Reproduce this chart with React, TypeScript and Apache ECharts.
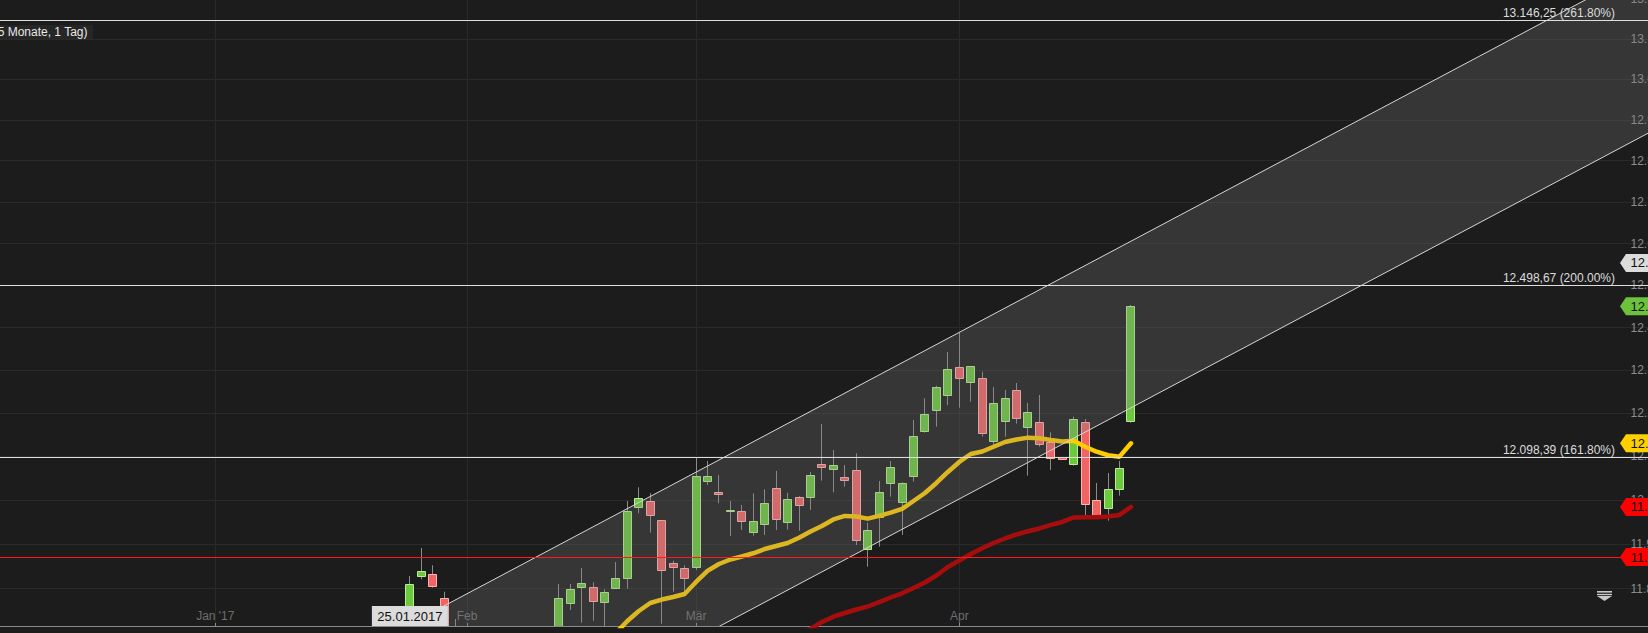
import React, { useEffect, useRef } from 'react';
import * as echarts from 'echarts';

const W = 1648;
const H = 633;
const FONT = "'Liberation Sans', Arial, sans-serif";

// ---------- axis ----------
const axisStart = '2016-12-06';
const axisLength = 146;
const monthTickDates = ['2017-01-02', '2017-02-01', '2017-03-01', '2017-04-03'];
const monthTickLabels = ["Jan '17", 'Feb', 'Mär', 'Apr'];
const yTicks = [11800, 11900, 12000, 12100, 12200, 12300, 12400, 12500, 12600, 12700, 12800, 12900, 13000, 13100, 13200];
const yMin = 11716.2;
const yMax = 13207.2;

// ---------- candles ----------
const candleDates = [
  '2017-01-25', '2017-01-26', '2017-01-27', '2017-01-30', '2017-01-31', '2017-02-01',
  '2017-02-13', '2017-02-14', '2017-02-15', '2017-02-16', '2017-02-17',
  '2017-02-20', '2017-02-21', '2017-02-22', '2017-02-23', '2017-02-24',
  '2017-02-27', '2017-02-28', '2017-03-01', '2017-03-02', '2017-03-03',
  '2017-03-06', '2017-03-07', '2017-03-08', '2017-03-09', '2017-03-10',
  '2017-03-13', '2017-03-14', '2017-03-15', '2017-03-16', '2017-03-17',
  '2017-03-20', '2017-03-21', '2017-03-22', '2017-03-23', '2017-03-24',
  '2017-03-27', '2017-03-28', '2017-03-29', '2017-03-30', '2017-03-31',
  '2017-04-03', '2017-04-04', '2017-04-05', '2017-04-06', '2017-04-07',
  '2017-04-10', '2017-04-11', '2017-04-12', '2017-04-13', '2017-04-14',
  '2017-04-17', '2017-04-18', '2017-04-19', '2017-04-20', '2017-04-21',
  '2017-04-24',
];
const candleOpen = [
  11625, 11827.5, 11832.0, 11778.0, 11690, 11640,
  11680, 11766.8, 11802.8, 11802.8, 11769.1,
  11800.5, 11823.0, 11983.7, 11997.3, 11954.2,
  11856.8, 11845.5, 11849.1, 12044.5, 12018.6,
  11974.6, 11975.3, 11926.9, 11945.1, 12027.1,
  11949.6, 12006.4, 12006.4, 12082.1, 12071.3,
  12052.3, 12068.3, 11888.9, 11961.0, 12039.9,
  11995.1, 12055.3, 12158.2, 12207.5, 12241.6,
  12307.1, 12272.0, 12281.3, 12135.0, 12181.3,
  12253.3, 12167.4, 12179.0, 12132.7, 12098.2,
  12082.1, 12179.0, 11999.6, 11982.1, 12024.8,
  12181.3,
];
const candleHigh = [
  11828.2, 11891.2, 11852.3, 11792.9, 11731.8, 11721.3,
  11810.2, 11810.2, 11846.2, 11814.0, 11798.3,
  11859.7, 11998.0, 12029.4, 12015.6, 11954.2,
  11862.6, 11852.3, 12098.2, 12089.7, 12057.6,
  11998.0, 11988.9, 12015.6, 12024.8, 12066.8,
  12016.9, 12009.3, 12064.5, 12175.1, 12114.9,
  12080.5, 12107.3, 11948.7, 12043.9, 12089.7,
  12040.8, 12184.3, 12234.6, 12264.0, 12342.8,
  12388.3, 12309.4, 12296.8, 12260.9, 12254.0,
  12270.3, 12223.7, 12242.3, 12155.8, 12098.2,
  12191.9, 12186.6, 12039.2, 12062.2, 12089.7,
  12453.6,
];
const candleLow = [
  11610, 11820.8, 11801.9, 11650, 11520, 11560,
  11670, 11751.9, 11723.6, 11728.0, 11700,
  11800.5, 11799.6, 11970.1, 11926.0, 11721.3,
  11792.9, 11792.9, 11841.7, 12034.6, 11992.8,
  11918.5, 11932.1, 11919.2, 11920.8, 11932.1,
  11932.8, 11930.5, 11977.6, 12044.5, 12017.9,
  12030.7, 11897.9, 11849.1, 11894.2, 12007.9,
  11920.8, 12042.2, 12154.9, 12168.8, 12219.0,
  12212.8, 12226.7, 12145.7, 12126.4, 12145.7,
  12175.8, 12056.0, 12122.5, 12069.1, 12095.0,
  12078.9, 11957.8, 11965.5, 11953.3, 12010.2,
  12178.0,
];
const candleClose = [
  11810.2, 11839.5, 11806.4, 11680, 11540, 11660,
  11778.0, 11798.3, 11811.8, 11772.6, 11792.9,
  11823.0, 11975.3, 12004.2, 11966.9, 11841.0,
  11849.1, 11823.0, 12055.3, 12055.3, 12013.3,
  11977.6, 11951.9, 11951.9, 11992.8, 11956.5,
  12001.8, 11988.3, 12057.6, 12075.2, 12079.8,
  12045.4, 11909.4, 11931.5, 12017.9, 12075.2,
  12038.6, 12147.3, 12197.5, 12260.2, 12302.4,
  12281.3, 12309.4, 12153.5, 12223.0, 12234.6,
  12188.3, 12202.1, 12128.1, 12096.6, 12095.0,
  12185.9, 11990.5, 11965.5, 12026.2, 12072.9,
  12450.5,
];

// ---------- moving averages ----------
const maFastStart = '2017-02-20';
const maFast = [
  11700.6, 11727.4, 11749.7, 11767.5, 11775.3,
  11780.9, 11787.7, 11814.7, 11839.5, 11855.2,
  11865.3, 11872.1, 11879.3, 11889.0, 11895.8,
  11902.6, 11914.6, 11928.7, 11941.2, 11956.0,
  11964.0, 11962.8, 11957.8, 11964.0, 11971.4,
  11979.9, 11998.0, 12016.3, 12039.2, 12064.5,
  12087.4, 12105.7, 12111.5, 12122.5, 12133.4,
  12139.2, 12143.4, 12142.0, 12138.0, 12134.6,
  12136.4, 12122.5, 12111.0, 12102.8, 12099.6,
  12130.4,
];
const maSlowStart = '2017-03-14';
const maSlow = [
  11698.3, 11709.5, 11725.1, 11736.9,
  11745.2, 11753.0, 11759.7, 11769.7, 11779.8,
  11789.3, 11801.2, 11813.6, 11829.3, 11848.5,
  11863.1, 11877.7, 11890.6, 11902.6, 11912.8,
  11921.9, 11929.2, 11935.5, 11943.5, 11950.3,
  11960.5, 11961.0, 11961.0, 11962.8, 11966.2,
  11984.4,
];

// ---------- drawings ----------
const fibLevels = [13146.25, 12498.67, 12098.39];
const fibPercents = ['261.80%', '200.00%', '161.80%'];
const supportLevel = 11870.9;
const channelUpper: [string, number][] = [['2017-02-01', 11788.4], ['2017-04-24', 12605.6]];
const channelLower: [string, number] = ['2017-04-24', 12212.6];
const crosshairDate = '2017-01-25';
const crosshairValue = 12553.5;
const periodText = '(5 Monate, 1 Tag)';

const GREEN = '#6cc83c';
const GREEN_EDGE = '#b9ec9a';
const RED = '#f06464';
const RED_EDGE = '#ffb3b3';

function buildWeekdays(start: string, n: number): string[] {
  const out: string[] = [];
  const d = new Date(start + 'T00:00:00Z');
  while (out.length < n) {
    const wd = d.getUTCDay();
    if (wd !== 0 && wd !== 6) out.push(d.toISOString().slice(0, 10));
    d.setUTCDate(d.getUTCDate() + 1);
  }
  return out;
}

function fmtDE(v: number, dec: number): string {
  const s = v.toFixed(dec);
  const parts = s.split('.');
  const i = parts[0].replace(/\B(?=(\d{3})+(?!\d))/g, '.');
  return parts[1] ? i + ',' + parts[1] : i;
}

const L = Math.log;

export default function App() {
  const ref = useRef<HTMLDivElement>(null);

  useEffect(() => {
    document.body.style.margin = '0';
    document.body.style.background = '#1c1c1c';
    const el = ref.current;
    if (!el) return;
    const chart = echarts.init(el, null, { renderer: 'svg' });

    const categories = buildWeekdays(axisStart, axisLength);
    const idx = (d: string) => categories.indexOf(d);
    const isMonth = (_i: number, v: string) => monthTickDates.indexOf(v) >= 0;

    const candleData = candleDates.map((d, i) => [
      idx(d), L(candleOpen[i]), L(candleClose[i]), L(candleLow[i]), L(candleHigh[i]),
    ]);
    const fastStart = idx(maFastStart);
    const fastData = maFast.map((v, i) => [categories[fastStart + i], L(v)]);
    const slowStart = idx(maSlowStart);
    const slowData = maSlow.map((v, i) => [categories[slowStart + i], L(v)]);

    const levelValues = [...fibLevels, supportLevel];

    const option: any = {
      animation: false,
      backgroundColor: '#1c1c1c',
      textStyle: { fontFamily: FONT },
      grid: { left: -2.17, top: -4, width: 1659.67, height: 630, containLabel: false, outerBoundsMode: 'none' },
      xAxis: {
        type: 'category',
        data: categories,
        boundaryGap: false,
        axisLine: { show: true, lineStyle: { color: '#8a8a8a', width: 1 } },
        axisTick: { show: true, inside: true, length: 3, interval: isMonth, lineStyle: { color: '#8a8a8a' } },
        axisLabel: {
          inside: true,
          margin: 4,
          interval: isMonth,
          color: '#6e6e6e',
          fontSize: 12,
          fontFamily: FONT,
          formatter: (v: string) => {
            const k = monthTickDates.indexOf(v);
            return k >= 0 ? monthTickLabels[k] : '';
          },
        },
        splitLine: { show: true, interval: isMonth, lineStyle: { color: '#2a2a2a', width: 1 } },
      },
      yAxis: {
        type: 'value',
        position: 'right',
        min: L(yMin),
        max: L(yMax),
        offset: -27,
        axisLine: { show: false },
        axisTick: { show: false, customValues: yTicks.map(L) },
        axisLabel: {
          customValues: yTicks.map(L),
          margin: 0,
          padding: [0, 0, 4, 0],
          color: '#8c8c8c',
          fontSize: 12,
          fontFamily: FONT,
          formatter: (v: number) => fmtDE(Math.round(Math.exp(v)), 0),
        },
        splitLine: { show: true, lineStyle: { color: '#2a2a2a', width: 1 } },
      },
      series: [
        {
          type: 'custom',
          name: 'Kurs',
          z: 2,
          clip: true,
          data: candleData,
          encode: { x: 0, y: [1, 2, 3, 4] },
          renderItem: (params: any, api: any) => {
            const x = api.value(0);
            const o = api.value(1), c = api.value(2), lo = api.value(3), hi = api.value(4);
            const pO = api.coord([x, o]);
            const pC = api.coord([x, c]);
            const pL = api.coord([x, lo]);
            const pH = api.coord([x, hi]);
            const cx = Math.floor(pO[0]) + 0.5;
            const up = c >= o;
            const top = Math.round(Math.min(pO[1], pC[1]));
            const bot = Math.round(Math.max(pO[1], pC[1]));
            const h = Math.max(1, bot - top);
            return {
              type: 'group',
              children: [
                { type: 'line', shape: { x1: cx, y1: pH[1], x2: cx, y2: pL[1] }, style: { stroke: '#8c8c8c', lineWidth: 1 } },
                {
                  type: 'rect',
                  shape: { x: cx - 4, y: top + 0.5, width: 8, height: h },
                  style: { fill: up ? GREEN : RED, stroke: up ? GREEN_EDGE : RED_EDGE, lineWidth: 1 },
                },
              ],
            };
          },
        },
        {
          type: 'line',
          name: 'GD lang',
          z: 3,
          data: slowData,
          symbol: 'none',
          smooth: false,
          lineStyle: { color: '#a80d0d', width: 4.5, join: 'round', cap: 'round' },
        },
        {
          type: 'line',
          name: 'GD kurz',
          z: 3,
          data: fastData,
          symbol: 'none',
          smooth: false,
          lineStyle: { color: '#ffcc00', width: 4.5, join: 'round', cap: 'round' },
        },
        {
          type: 'custom',
          name: 'Trendkanal',
          z: 4,
          clip: true,
          data: [[idx(channelUpper[0][0]), L(channelUpper[0][1])]],
          encode: { x: 0, y: 1 },
          renderItem: (params: any, api: any) => {
            const u1 = api.coord([idx(channelUpper[0][0]), L(channelUpper[0][1])]);
            const u2 = api.coord([idx(channelUpper[1][0]), L(channelUpper[1][1])]);
            const l1 = api.coord([idx(channelLower[0]), L(channelLower[1])]);
            const slope = (u2[1] - u1[1]) / (u2[0] - u1[0]);
            const cs = params.coordSys;
            const xa = cs.x - 60;
            const xb = cs.x + cs.width + 60;
            const ua = [xa, u1[1] + slope * (xa - u1[0])];
            const ub = [xb, u1[1] + slope * (xb - u1[0])];
            const la = [xa, l1[1] + slope * (xa - l1[0])];
            const lb = [xb, l1[1] + slope * (xb - l1[0])];
            return {
              type: 'group',
              children: [
                { type: 'polygon', shape: { points: [ua, ub, lb, la] }, style: { fill: 'rgba(125,125,125,0.27)' } },
                { type: 'line', shape: { x1: ua[0], y1: ua[1], x2: ub[0], y2: ub[1] }, style: { stroke: '#d6d6d6', lineWidth: 1 } },
                { type: 'line', shape: { x1: la[0], y1: la[1], x2: lb[0], y2: lb[1] }, style: { stroke: '#d6d6d6', lineWidth: 1 } },
              ],
            };
          },
        },
        {
          type: 'custom',
          name: 'Niveaus',
          z: 5,
          clip: true,
          data: levelValues.map((v, i) => [0, L(v), i]),
          encode: { x: 0, y: 1 },
          renderItem: (params: any, api: any) => {
            const i = params.dataIndex;
            const y = Math.floor(api.coord([0, api.value(1)])[1]) + 0.5;
            const cs = params.coordSys;
            const isFib = i < fibLevels.length;
            const children: any[] = [
              {
                type: 'line',
                shape: { x1: cs.x, y1: y, x2: cs.x + cs.width, y2: y },
                style: { stroke: isFib ? '#dedede' : '#ff1a1a', lineWidth: 1 },
              },
            ];
            if (isFib) {
              children.push({
                type: 'text',
                style: {
                  text: fmtDE(fibLevels[i], 2) + ' (' + fibPercents[i] + ')',
                  x: W - 33,
                  y: y - 8,
                  align: 'right',
                  verticalAlign: 'middle',
                  fill: '#dcdcdc',
                  font: '12px ' + FONT,
                },
              });
            }
            return { type: 'group', children };
          },
        },
      ],
    };

    chart.setOption(option);

    // overlay annotations positioned through the axes
    const yPx = (v: number) => chart.convertToPixel({ yAxisIndex: 0 }, L(v)) as number;
    const xPx = (d: string) => chart.convertToPixel({ xAxisIndex: 0 }, d) as number;
    const tags = [
      { value: crosshairValue, color: '#dcdcdc' },
      { value: candleClose[candleClose.length - 1], color: '#6cc23a' },
      { value: maFast[maFast.length - 1], color: '#ffd000' },
      { value: maSlow[maSlow.length - 1], color: '#ff0000' },
      { value: supportLevel, color: '#ff0000' },
    ];
    const graphics: any[] = [];
    tags.forEach((t) => {
      const y = yPx(t.value);
      graphics.push({
        type: 'polygon',
        z: 100,
        shape: { points: [[1620, y], [1626, y - 9], [W + 4, y - 9], [W + 4, y + 9], [1626, y + 9]] },
        style: { fill: t.color },
      });
      graphics.push({
        type: 'text',
        z: 101,
        x: 1630.5,
        y: y,
        style: { text: fmtDE(t.value, 2), fill: '#111111', font: '13px ' + FONT, verticalAlign: 'middle', align: 'left' },
      });
    });
    const dx = xPx(crosshairDate);
    const d = crosshairDate.split('-');
    graphics.push({ type: 'rect', z: 100, shape: { x: dx - 38, y: 606, width: 76, height: 20 }, style: { fill: '#dcdcdc' } });
    graphics.push({
      type: 'text', z: 101, x: dx, y: 616.5,
      style: { text: d[2] + '.' + d[1] + '.' + d[0], fill: '#111111', font: '13px ' + FONT, align: 'center', verticalAlign: 'middle' },
    });
    graphics.push({ type: 'rect', z: 100, shape: { x: 0, y: 25, width: 93, height: 14 }, style: { fill: '#262626' } });
    graphics.push({
      type: 'text', z: 101, x: 87.5, y: 32,
      style: { text: periodText, fill: '#e8e8e8', font: '12px ' + FONT, align: 'right', verticalAlign: 'middle' },
    });
    // collapse icon
    graphics.push({ type: 'rect', z: 100, shape: { x: 1597, y: 591, width: 15, height: 1.6 }, style: { fill: '#c8c8c8' } });
    graphics.push({ type: 'rect', z: 100, shape: { x: 1597, y: 593.8, width: 15, height: 1.4 }, style: { fill: '#c8c8c8' } });
    graphics.push({ type: 'polygon', z: 100, shape: { points: [[1597, 596], [1612, 596], [1604.5, 601]] }, style: { fill: '#c8c8c8' } });

    chart.setOption({ graphic: graphics });

    return () => chart.dispose();
  }, []);

  return <div ref={ref} style={{ width: W, height: H, overflow: 'hidden', background: '#1c1c1c' }} />;
}
